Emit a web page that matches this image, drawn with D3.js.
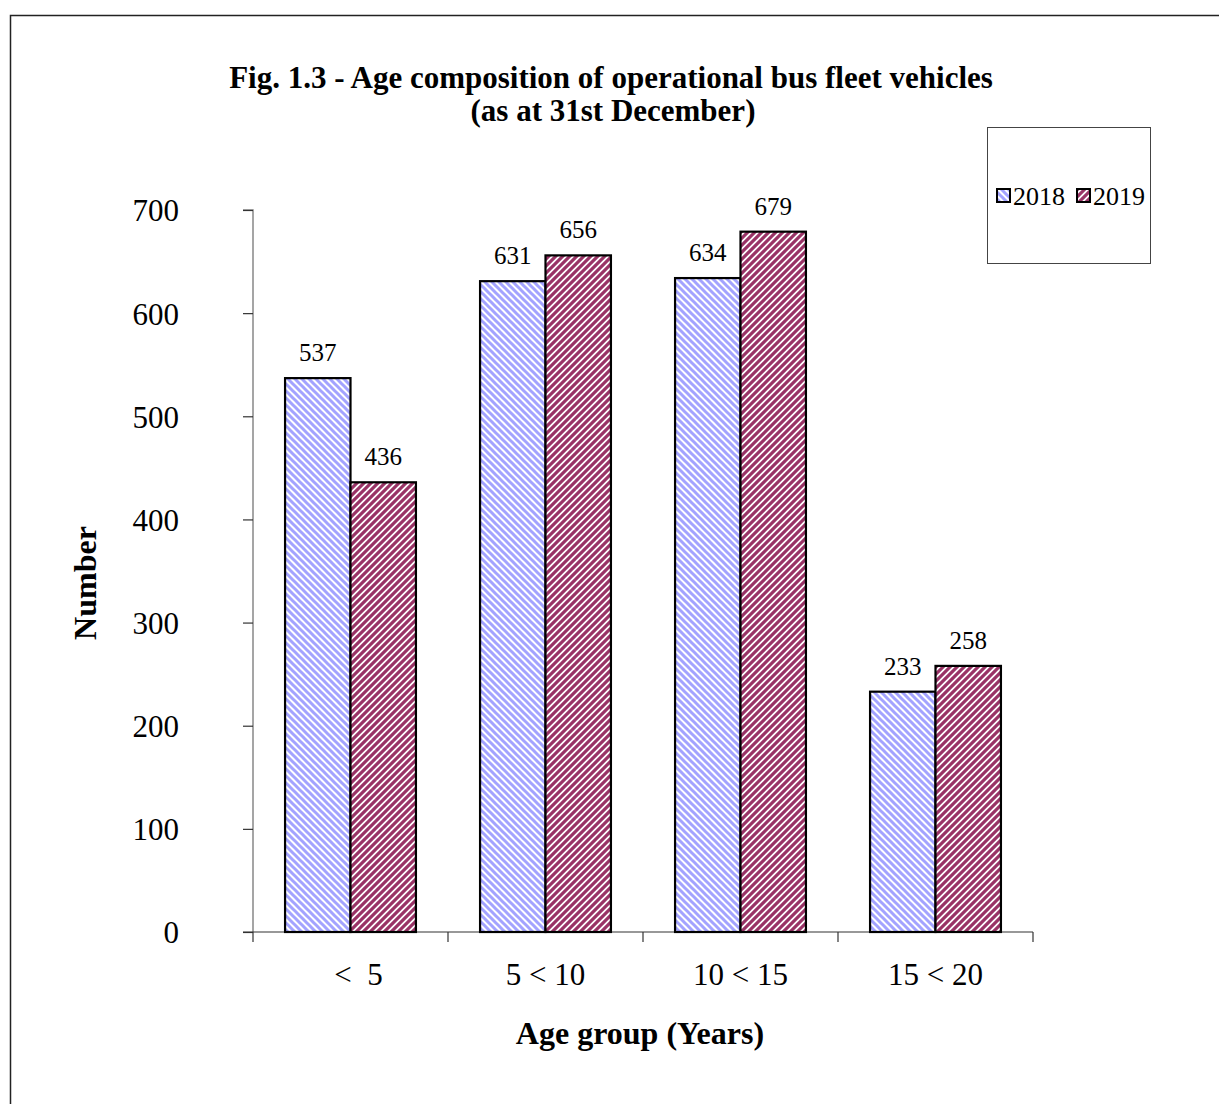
<!DOCTYPE html>
<html><head><meta charset="utf-8">
<script src="https://cdn.jsdelivr.net/npm/d3@7"></script>
<style>html,body{margin:0;padding:0;background:#fff;}svg{display:block;font-family:"Liberation Serif","Times New Roman",serif;}</style>
</head><body>
<svg id="c" width="1219" height="1104"></svg>
<script>
const categories = ["<  5", "5 < 10", "10 < 15", "15 < 20"];
const seriesNames = ["2018", "2019"];
const values2018 = [537, 631, 634, 233];
const values2019 = [436, 656, 679, 258];
const yTicks = [0, 100, 200, 300, 400, 500, 600, 700];
const colors = ["#a3a3ff", "#993366"];

const svg = d3.select("#c");
const defs = svg.append("defs");
// patterns
const P = 7;
const p1 = defs.append("pattern").attr("id","pat0").attr("patternUnits","userSpaceOnUse").attr("width",P).attr("height",P);
p1.append("rect").attr("width",P).attr("height",P).attr("fill","#fff");
p1.append("path").attr("d",`M-2,-2 L${P+2},${P+2} M${-P-2},-2 L2,${P+2} M${P-2},-2 L${2*P+2},${P+2}`).attr("stroke",colors[0]).attr("stroke-width",3);
const p2 = defs.append("pattern").attr("id","pat1").attr("patternUnits","userSpaceOnUse").attr("width",P).attr("height",P);
p2.append("rect").attr("width",P).attr("height",P).attr("fill","#fff");
p2.append("path").attr("d",`M-2,${P+2} L${P+2},-2 M${-P-2},${P+2} L2,-2 M${P-2},${P+2} L${2*P+2},-2`).attr("stroke",colors[1]).attr("stroke-width",3.2);

// outer frame
svg.append("path").attr("d","M10.5,1104 L10.5,15.5 L1219,15.5").attr("fill","none").attr("stroke","#222").attr("stroke-width",1.5);

const x0 = 253, x1 = 1033, yBottom = 932, yTop = 210;
const x = d3.scaleBand().domain(categories).range([x0, x1]).paddingInner(0).paddingOuter(0);
const xs = d3.scaleBand().domain(seriesNames).range([0, x.bandwidth()]).paddingOuter(0.49).paddingInner(0);
const y = d3.scaleLinear().domain([0, 700]).range([yBottom, yTop]);

// y axis
const ya = svg.append("g").attr("transform",`translate(${x0},0)`)
  .call(d3.axisLeft(y).tickValues(yTicks).tickSize(10).tickPadding(64).tickFormat(d3.format("d")));
ya.select(".domain").attr("stroke","#888").attr("stroke-width",1.5).attr("d",`M-10,${yTop}H0V${yBottom}`);
ya.selectAll(".tick line").attr("stroke","#333").attr("stroke-width",1.2);
ya.selectAll(".tick text").attr("font-size",31).attr("fill","#000").attr("font-family","Liberation Serif, serif").attr("dy","0.35em");

// x axis
const xa = svg.append("g").attr("transform",`translate(0,${yBottom})`);
xa.append("line").attr("x1",x0-10).attr("x2",x1).attr("y1",0).attr("y2",0).attr("stroke","#333").attr("stroke-width",1.2);
const bounds = [x0].concat(categories.map(c => x(c) + x.bandwidth()));
xa.selectAll("line.tk").data(bounds).enter().append("line").attr("class","tk")
  .attr("x1",d=>d).attr("x2",d=>d).attr("y1",0).attr("y2",10).attr("stroke","#333").attr("stroke-width",1.2);
xa.selectAll("text").data(categories).enter().append("text")
  .attr("x",d=>x(d)+x.bandwidth()/2 + (d==="<  5"?8:0)).attr("y",53).attr("text-anchor","middle")
  .attr("font-size",31).attr("xml:space","preserve").style("white-space","pre").text(d=>d);

// bars
const data = [];
categories.forEach((c,i)=>{
  data.push({c, s:"2018", v:values2018[i], k:0});
  data.push({c, s:"2019", v:values2019[i], k:1});
});
svg.append("g").selectAll("rect").data(data).enter().append("rect")
  .attr("x",d=>x(d.c)+xs(d.s)).attr("y",d=>y(d.v))
  .attr("width",xs.bandwidth()).attr("height",d=>y(0)-y(d.v))
  .attr("fill",d=>`url(#pat${d.k})`).attr("stroke","#000").attr("stroke-width",2.2);
svg.append("g").selectAll("text").data(data).enter().append("text")
  .attr("x",d=>x(d.c)+xs(d.s)+xs.bandwidth()/2).attr("y",d=>y(d.v)-17)
  .attr("text-anchor","middle").attr("font-size",25).text(d=>d.v);

// titles
svg.append("text").attr("x",611).attr("y",88).attr("text-anchor","middle").attr("font-size",31).attr("font-weight","bold")
  .text("Fig. 1.3 - Age composition of operational bus fleet vehicles");
svg.append("text").attr("x",613).attr("y",121).attr("text-anchor","middle").attr("font-size",31).attr("font-weight","bold")
  .text("(as at 31st December)");
svg.append("text").attr("transform","translate(96,583) rotate(-90)").attr("text-anchor","middle").attr("font-size",32).attr("font-weight","bold").text("Number");
svg.append("text").attr("x",640).attr("y",1044).attr("text-anchor","middle").attr("font-size",32).attr("font-weight","bold").text("Age group (Years)");

// legend
svg.append("rect").attr("x",987.5).attr("y",127.5).attr("width",163).attr("height",136).attr("fill","#fff").attr("stroke","#444").attr("stroke-width",1);
const lg = svg.append("g");
const lx = [997, 1077];
seriesNames.forEach((s,i)=>{
  lg.append("rect").attr("x",lx[i]).attr("y",189).attr("width",13).attr("height",13).attr("fill",`url(#pat${i})`).attr("stroke","#000").attr("stroke-width",2);
  lg.append("text").attr("x",lx[i]+16).attr("y",205).attr("font-size",26).text(s);
});
</script>
</body></html>
